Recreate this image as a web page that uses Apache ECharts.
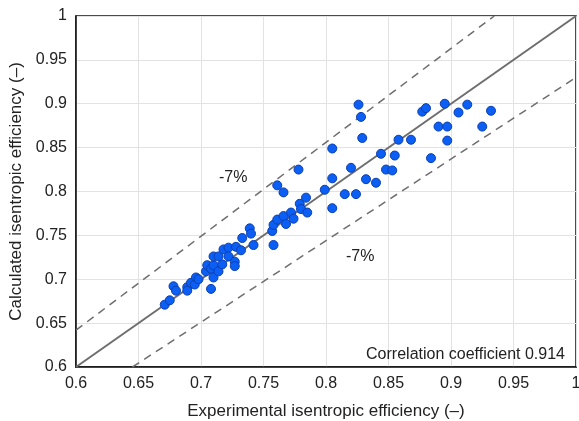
<!DOCTYPE html>
<html>
<head>
<meta charset="utf-8">
<script src="https://cdn.jsdelivr.net/npm/echarts@6/dist/echarts.min.js"></script>
<style>
  html, body { margin: 0; padding: 0; background: #fff; }
  #chart { width: 579px; height: 421px; }
</style>
</head>
<body>
<div id="chart"></div>
<script>
// Experimental vs. calculated isentropic efficiency
const experimental = [
  0.671, 0.675, 0.678, 0.680, 0.689, 0.689, 0.692, 0.695, 0.696, 0.698,
  0.708, 0.704, 0.705, 0.708, 0.710, 0.710, 0.714, 0.717, 0.710, 0.714,
  0.718, 0.722, 0.722, 0.728, 0.727, 0.727, 0.733, 0.732, 0.739, 0.740,
  0.742, 0.757, 0.758, 0.758, 0.761, 0.766, 0.768, 0.772, 0.774, 0.779,
  0.780, 0.784, 0.785, 0.761, 0.766, 0.778, 0.799, 0.805, 0.805, 0.805,
  0.815, 0.820, 0.824, 0.826, 0.828, 0.829, 0.832, 0.840, 0.844, 0.848,
  0.853, 0.855, 0.858, 0.868, 0.877, 0.880, 0.884, 0.890, 0.895, 0.897,
  0.897, 0.906, 0.913, 0.925, 0.932
];
const calculated = [
  0.671, 0.676, 0.692, 0.687, 0.691, 0.687, 0.696, 0.694, 0.702, 0.700,
  0.689, 0.709, 0.716, 0.712, 0.716, 0.702, 0.709, 0.717, 0.726, 0.726,
  0.734, 0.736, 0.726, 0.737, 0.720, 0.715, 0.747, 0.733, 0.758, 0.752,
  0.739, 0.755, 0.739, 0.762, 0.768, 0.772, 0.763, 0.776, 0.769, 0.786,
  0.780, 0.793, 0.776, 0.807, 0.799, 0.825, 0.802, 0.815, 0.849, 0.781,
  0.797, 0.827, 0.797, 0.899, 0.885, 0.861, 0.814, 0.810, 0.843, 0.825,
  0.824, 0.841, 0.859, 0.859, 0.891, 0.895, 0.838, 0.874, 0.900, 0.874,
  0.858, 0.890, 0.899, 0.874, 0.892
];

const axisMin = 0.6;
const axisMax = 1.0;
const axisStep = 0.05;
const tolerance = 0.07;           // ±7 % band
const correlation = 0.914;
const xTitle = 'Experimental isentropic efficiency (–)';
const yTitle = 'Calculated isentropic efficiency (–)';

const points = experimental.map((x, i) => [x, calculated[i]]);
const parity = [[axisMin, axisMin], [axisMax, axisMax]];
const upper = [[axisMin, axisMin * (1 + tolerance)], [axisMax / (1 + tolerance), axisMax]];
const lower = [[axisMin / (1 - tolerance), axisMin], [axisMax, axisMax * (1 - tolerance)]];

const FONT = '"Liberation Sans", Arial, sans-serif';
const chart = echarts.init(document.getElementById('chart'), null, { renderer: 'canvas' });

const axisCommon = {
  type: 'value',
  min: axisMin,
  max: axisMax,
  interval: axisStep,
  axisLine: { show: true, onZero: false, lineStyle: { color: '#111', width: 1.5 } },
  axisTick: { show: false },
  splitLine: { show: true, lineStyle: { color: '#e2e2e2', width: 1 } },
  axisLabel: {
    color: '#222', fontSize: 16, fontFamily: FONT,
    formatter: v => String(+v.toFixed(2))
  },
  nameLocation: 'middle',
  nameTextStyle: { color: '#222', fontSize: 17, fontFamily: FONT }
};

chart.setOption({
  animation: false,
  backgroundColor: '#fff',
  grid: {
    left: 76, right: 3, top: 16, bottom: 54,
    outerBoundsMode: 'none', containLabel: false,
    show: true, borderColor: '#111', borderWidth: 1.5
  },
  xAxis: Object.assign({}, axisCommon, {
    name: xTitle, nameGap: 36,
    axisLabel: Object.assign({}, axisCommon.axisLabel, { margin: 9 })
  }),
  yAxis: Object.assign({}, axisCommon, {
    name: yTitle, nameGap: 50,
    axisLabel: Object.assign({}, axisCommon.axisLabel, { margin: 9 })
  }),
  series: [
    {
      type: 'line', data: parity, symbol: 'none', silent: true,
      lineStyle: { color: '#6e6e6e', width: 2 }, z: 2
    },
    {
      type: 'line', data: upper, symbol: 'none', silent: true,
      lineStyle: { color: '#6e6e6e', width: 1.5, type: [8, 6] }, z: 2
    },
    {
      type: 'line', data: lower, symbol: 'none', silent: true,
      lineStyle: { color: '#6e6e6e', width: 1.5, type: [8, 6] }, z: 2
    },
    {
      type: 'scatter', data: points, symbol: 'circle', symbolSize: 9,
      itemStyle: { color: '#0b5ff5', borderColor: '#0c3fae', borderWidth: 1, opacity: 1 }, z: 3
    }
  ],
  graphic: [
    {
      type: 'text', left: 219, top: 170, z: 5,
      style: { text: '-7%', fontSize: 16, fontFamily: FONT, fill: '#222' }
    },
    {
      type: 'text', left: 346, top: 249, z: 5,
      style: { text: '-7%', fontSize: 16, fontFamily: FONT, fill: '#222' }
    },
    {
      type: 'text', right: 14, top: 347, z: 5,
      style: { text: 'Correlation coefficient ' + correlation, fontSize: 16, fontFamily: FONT, fill: '#222' }
    }
  ]
});
</script>
</body>
</html>
